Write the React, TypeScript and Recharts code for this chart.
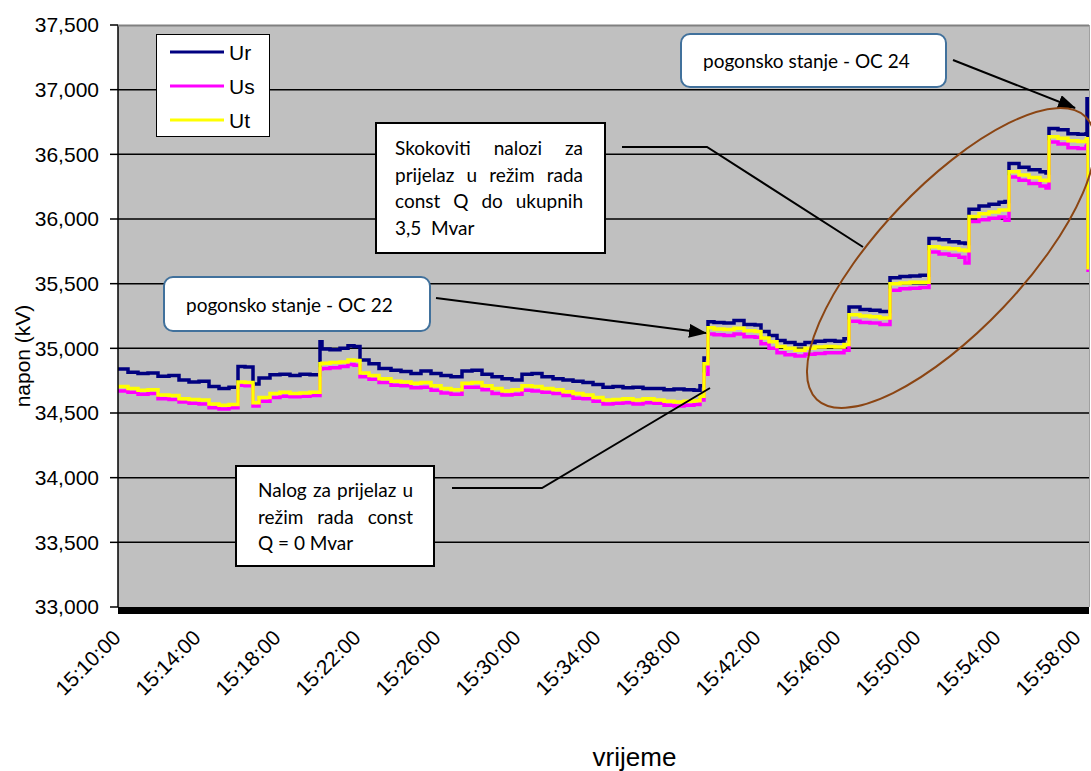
import React from 'react';
import { LineChart, Line, XAxis, YAxis, CartesianGrid, Legend } from 'recharts';

// minutes after 15:10:00
const times = [
  0, 0.5, 1.0, 1.5, 2.0, 2.55, 3.05, 3.55, 4.05, 4.55,
  5.05, 5.55, 6.0, 6.35, 6.75, 7.05, 7.6, 8.1, 8.6, 9.1,
  9.6, 10.1, 10.2, 10.6, 11.1, 11.5, 11.8, 12.1, 12.55, 13.05,
  13.65, 14.15, 14.65, 15.15, 15.65, 16.15, 16.65, 17.2, 17.7, 18.2,
  18.7, 19.2, 19.7, 20.2, 20.7, 21.2, 21.75, 22.25, 22.75, 23.25,
  23.75, 24.25, 24.75, 25.25, 25.75, 26.25, 26.8, 27.3, 27.8, 28.3,
  28.8, 29.1, 29.3, 29.5, 29.8, 30.3, 30.8, 31.3, 31.85, 32.15,
  32.55, 32.95, 33.35, 33.85, 34.35, 34.85, 35.35, 35.85, 36.3, 36.55,
  37.1, 37.6, 38.1, 38.6, 39.1, 39.6, 40.1, 40.55, 41.05, 41.55,
  42.05, 42.35, 42.55, 43.05, 43.55, 44.05, 44.35, 44.55, 45.05, 45.55,
  46.1, 46.4, 46.55, 47.0, 47.5, 48.0, 48.4, 48.45, 48.5,
];

const ur = [
  34840, 34815, 34805, 34810, 34785, 34790, 34755, 34740, 34745, 34705,
  34690, 34700, 34860, 34855, 34725, 34770, 34795, 34800, 34790, 34800,
  34795, 35050, 34995, 34990, 35000, 35020, 35015, 34910, 34880, 34845,
  34830, 34820, 34805, 34825, 34805, 34790, 34780, 34825, 34830, 34800,
  34780, 34765, 34755, 34800, 34805, 34780, 34765, 34755, 34745, 34735,
  34720, 34700, 34705, 34695, 34700, 34690, 34690, 34680, 34685, 34680,
  34675, 34710, 34925, 35205, 35200, 35195, 35215, 35185, 35180, 35130,
  35100, 35060, 35045, 35030, 35045, 35055, 35060, 35055, 35075, 35320,
  35300, 35295, 35285, 35545, 35555, 35560, 35565, 35850, 35840, 35825,
  35815, 35810, 36075, 36100, 36115, 36130, 36135, 36430, 36400, 36380,
  36365, 36355, 36700, 36690, 36660, 36655, 36660, 36930, 35620,
];

const us = [
  34670, 34660, 34645, 34650, 34610, 34605, 34585, 34575, 34570, 34540,
  34530, 34540, 34715, 34710, 34555, 34590, 34620, 34630, 34625, 34630,
  34635, 34840, 34845, 34850, 34860, 34875, 34870, 34780, 34760, 34735,
  34715, 34710, 34695, 34700, 34675, 34655, 34645, 34700, 34700, 34680,
  34650, 34640, 34645, 34675, 34670, 34660, 34650, 34635, 34615, 34610,
  34590, 34570, 34575, 34580, 34570, 34580, 34575, 34560, 34555, 34560,
  34565, 34600, 34800, 35110, 35105, 35100, 35110, 35090, 35085, 35035,
  35000, 34965, 34950, 34940, 34955, 34960, 34965, 34965, 34985, 35210,
  35200, 35195, 35185, 35450, 35460, 35465, 35470, 35745, 35730, 35720,
  35705, 35660, 35980, 35995, 36005, 36015, 35990, 36325, 36300, 36275,
  36255, 36240, 36595, 36580, 36550, 36545, 36560, 36570, 35590,
];

const ut = [
  34705, 34690, 34675, 34680, 34640, 34635, 34610, 34605, 34600, 34570,
  34560, 34565, 34740, 34735, 34580, 34620, 34650, 34660, 34650, 34655,
  34660, 34880, 34885, 34890, 34895, 34910, 34905, 34810, 34790, 34765,
  34745, 34740, 34730, 34735, 34710, 34690, 34680, 34730, 34735, 34710,
  34690, 34670, 34680, 34710, 34705, 34690, 34680, 34665, 34650, 34640,
  34620, 34600, 34605, 34610, 34600, 34610, 34600, 34590, 34585, 34590,
  34595, 34630, 34880, 35160, 35150, 35145, 35155, 35135, 35130, 35080,
  35050, 35015, 35000, 34985, 35000, 35010, 35015, 35010, 35030, 35260,
  35250, 35245, 35235, 35500, 35505, 35510, 35510, 35785, 35775, 35770,
  35760, 35755, 36020, 36040, 36055, 36070, 36070, 36365, 36340, 36320,
  36300, 36295, 36635, 36625, 36605, 36600, 36610, 36620, 35610,
];

const xTickValues = [0, 4, 8, 12, 16, 20, 24, 28, 32, 36, 40, 44, 48];
const xTickLabels = [
  '15:10:00', '15:14:00', '15:18:00', '15:22:00', '15:26:00', '15:30:00', '15:34:00',
  '15:38:00', '15:42:00', '15:46:00', '15:50:00', '15:54:00', '15:58:00',
];
const yTicks = [33000, 33500, 34000, 34500, 35000, 35500, 36000, 36500, 37000, 37500];
const gridValues = [33500, 34000, 34500, 35000, 35500, 36000, 36500, 37000];

const data = times.map((t, i) => ({ t, ur: ur[i], us: us[i], ut: ut[i] }));

const AX_FONT = 'Liberation Sans, Arial, sans-serif';
const NOTE_FONT = 'Lato, Calibri, sans-serif';

const XTick = (props: any) => {
  const { x, y, payload } = props;
  const idx = xTickValues.indexOf(payload.value);
  return (
    <g transform={`translate(${x + 4},${y + 32})`}>
      <text textAnchor="end" transform="rotate(-45)" fontFamily={AX_FONT} fontSize={21} fill="#000">
        {xTickLabels[idx]}
      </text>
    </g>
  );
};

const YLabel = (props: any) => {
  const vb = props.viewBox || { x: 0, y: 25, width: 118, height: 582 };
  const cx = vb.x + 22;
  const cy = vb.y + vb.height / 2 + 40;
  return (
    <text x={cx} y={cy} transform={`rotate(-90, ${cx}, ${cy})`} textAnchor="middle" dominantBaseline="central"
      fontFamily={AX_FONT} fontSize={21} fill="#000">napon (kV)</text>
  );
};

const XLabel = (props: any) => {
  const vb = props.viewBox || { x: 118, y: 607, width: 971, height: 164 };
  return (
    <text x={vb.x + vb.width / 2 + 31} y={vb.y + vb.height - 5} textAnchor="middle"
      fontFamily={AX_FONT} fontSize={26} fill="#000">vrijeme</text>
  );
};

const LegendBox = (props: any) => {
  const payload = props.payload || [];
  return (
    <div style={{ width: 114, height: 103, boxSizing: 'border-box', border: '1.5px solid #000', background: '#fff', paddingTop: 0 }}>
      {payload.map((p: any) => (
        <div key={p.value} style={{ display: 'flex', alignItems: 'center', height: 34 }}>
          <svg width={68} height={6} style={{ display: 'block' }}>
            <line x1={13} y1={3} x2={67} y2={3} stroke={p.color} strokeWidth={3} />
          </svg>
          <span style={{ fontFamily: AX_FONT, fontSize: 21, color: '#000', marginLeft: 4, lineHeight: '21px' }}>{p.value}</span>
        </div>
      ))}
    </div>
  );
};

const boxBase: React.CSSProperties = {
  position: 'absolute', boxSizing: 'border-box', background: '#fff', fontFamily: NOTE_FONT,
  fontSize: 19, color: '#000',
};

const JLine = ({ words, justify }: { words: string[]; justify: boolean }) => (
  <div style={{ display: 'flex', justifyContent: justify ? 'space-between' : 'flex-start', height: 26.5, lineHeight: '26.5px', whiteSpace: 'pre' }}>
    {justify ? words.map((w, i) => <span key={i}>{w}</span>) : <span>{words.join(' ')}</span>}
  </div>
);

export default function App() {
  return (
    <div style={{ position: 'relative', width: 1091, height: 771, background: '#fff', overflow: 'hidden' }}>
      <style>{`html,body{margin:0;padding:0;overflow:hidden;background:#fff}`}</style>
      <LineChart width={1091} height={771} data={data} margin={{ top: 25, right: 2, left: 0, bottom: 0 }}>
        <CartesianGrid vertical={false} horizontalValues={gridValues} stroke="#000" strokeWidth={1.5} fill="#c0c0c0" fillOpacity={1} />
        <XAxis dataKey="t" type="number" domain={[0, 48.55]} ticks={xTickValues} interval={0} height={164}
          tick={<XTick />} tickLine={false} tickSize={0} tickMargin={0}
          axisLine={{ stroke: '#000', strokeWidth: 7, transform: 'translate(0 3.5)' }}
          label={<XLabel />} allowDataOverflow />
        <YAxis type="number" domain={[33000, 37500]} ticks={yTicks} interval={0} width={118}
          tickFormatter={(v: number) => v.toLocaleString('en-US')}
          tick={{ fontFamily: AX_FONT, fontSize: 21, fill: '#000' }}
          tickSize={8} tickMargin={11} tickLine={{ stroke: '#000', strokeWidth: 1.5 }}
          axisLine={{ stroke: '#000', strokeWidth: 1.5 }}
          label={<YLabel />} allowDataOverflow />
        <Legend layout="vertical" align="center" verticalAlign="middle"
          wrapperStyle={{ left: 156, top: 34, width: 114, height: 103 }}
          content={(p: any) => <LegendBox payload={p.payload} />} />
        <Line type="stepAfter" dataKey="ur" name="Ur" stroke="#000080" strokeWidth={3.5} dot={false} isAnimationActive={false} />
        <Line type="stepAfter" dataKey="us" name="Us" stroke="#ff00ff" strokeWidth={3.5} dot={false} isAnimationActive={false} />
        <Line type="stepAfter" dataKey="ut" name="Ut" stroke="#ffff00" strokeWidth={3.5} dot={false} isAnimationActive={false} />
      </LineChart>

      <svg width={1091} height={771} style={{ position: 'absolute', left: 0, top: 0, pointerEvents: 'none' }}>
        <defs>
          <marker id="ah" viewBox="0 0 18 14" refX={17} refY={7} markerWidth={18} markerHeight={14} markerUnits="userSpaceOnUse" orient="auto">
            <path d="M0,0 L18,7 L0,14 z" fill="#000" />
          </marker>
        </defs>
        <line x1={118} y1={25.5} x2={1089} y2={25.5} stroke="#808080" strokeWidth={2} />
        <line x1={1089.5} y1={25} x2={1089.5} y2={607} stroke="#a0a0a0" strokeWidth={1} />
        <line x1={953} y1={60} x2={1075} y2={108} stroke="#000" strokeWidth={2} markerEnd="url(#ah)" />
        <line x1={436} y1={298} x2={706} y2={333} stroke="#000" strokeWidth={2} markerEnd="url(#ah)" />
        <polyline points="622,147 707,147 863,247" fill="none" stroke="#000" strokeWidth={2} />
        <polyline points="452,488 542,488 710,388" fill="none" stroke="#000" strokeWidth={2} />
        <ellipse cx={951} cy={258} rx={195} ry={72} transform="rotate(-46.5 951 258)" fill="none" stroke="#8b4513" strokeWidth={2} />
      </svg>

      <div style={{ ...boxBase, left: 680, top: 33, width: 267, height: 55, border: '2px solid #41719c', borderRadius: 10, paddingLeft: 21, display: 'flex', alignItems: 'center' }}>
        pogonsko stanje - OC 24
      </div>
      <div style={{ ...boxBase, left: 163, top: 276, width: 268, height: 56, border: '2px solid #41719c', borderRadius: 10, paddingLeft: 21, display: 'flex', alignItems: 'center' }}>
        pogonsko stanje - OC 22
      </div>
      <div style={{ ...boxBase, left: 375, top: 122, width: 231, height: 132, border: '2px solid #000', paddingLeft: 18, paddingTop: 11 }}>
        <div style={{ width: 188 }}>
          <JLine words={['Skokoviti', 'nalozi', 'za']} justify />
          <JLine words={['prijelaz', 'u', 'režim', 'rada']} justify />
          <JLine words={['const', 'Q', 'do', 'ukupnih']} justify />
          <JLine words={['3,5', ' Mvar']} justify={false} />
        </div>
      </div>
      <div style={{ ...boxBase, left: 235, top: 465, width: 200, height: 102, border: '2px solid #000', paddingLeft: 21, paddingTop: 10 }}>
        <div style={{ width: 155 }}>
          <JLine words={['Nalog', 'za', 'prijelaz', 'u']} justify />
          <JLine words={['režim', 'rada', 'const']} justify />
          <JLine words={['Q', '=', '0', 'Mvar']} justify={false} />
        </div>
      </div>
    </div>
  );
}
